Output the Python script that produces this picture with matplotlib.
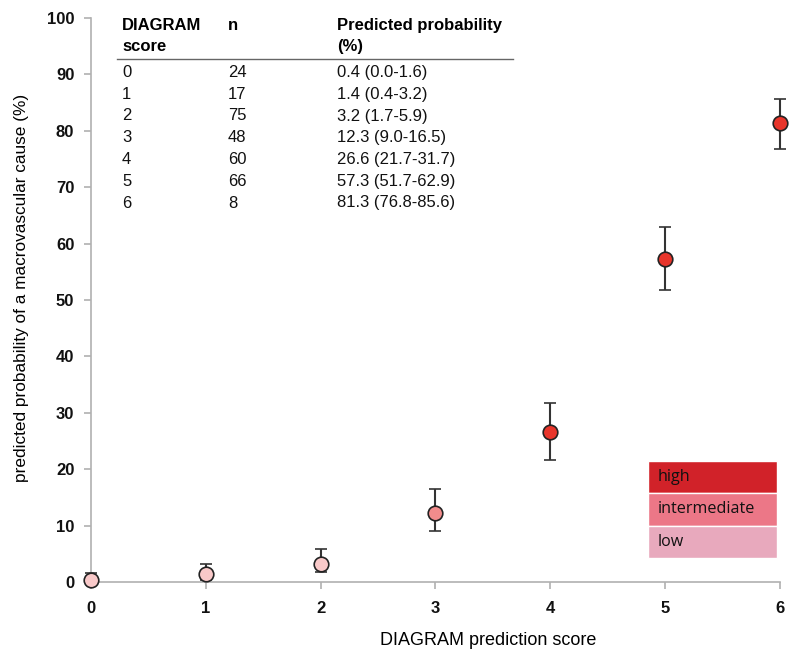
import matplotlib
matplotlib.use("Agg")
import matplotlib.pyplot as plt
from matplotlib.patches import Rectangle

plt.rcParams['font.family'] = ['Liberation Sans', 'DejaVu Sans']

# Data: DIAGRAM score, sample size, predicted probability with 95% CI
scores = [0, 1, 2, 3, 4, 5, 6]
n_patients = [24, 17, 75, 48, 60, 66, 8]
prob = [0.4, 1.4, 3.2, 12.3, 26.6, 57.3, 81.3]
ci_low = [0.0, 0.4, 1.7, 9.0, 21.7, 51.7, 76.8]
ci_high = [1.6, 3.2, 5.9, 16.5, 31.7, 62.9, 85.6]
risk_group = ['low', 'low', 'low', 'intermediate', 'high', 'high', 'high']

marker_colors = {'low': '#f9c9c9', 'intermediate': '#f28c8c', 'high': '#e8352b'}
legend_colors = [('high', '#d12229'), ('intermediate', '#ec7787'), ('low', '#e8a9bd')]

W, H = 812, 653
fig = plt.figure(figsize=(W / 100, H / 100), dpi=100)
x0, x1, y0, y1 = 91, 780, 582, 18
ax = fig.add_axes([x0 / W, 1 - y0 / H, (x1 - x0) / W, (y0 - y1) / H])

for s, p, lo, hi, g in zip(scores, prob, ci_low, ci_high, risk_group):
    ax.errorbar(s, p, yerr=[[p - lo], [hi - p]], fmt='o', ms=10.5,
                mfc=marker_colors[g], mec='#222222', mew=1.2,
                ecolor='#333333', elinewidth=1.5, capsize=4, capthick=1.5,
                clip_on=False, zorder=3)

ax.set_xlim(0, 6)
ax.set_ylim(0, 100)
ax.set_xticks(scores)
ax.set_yticks(range(0, 101, 10))
for side in ('top', 'right'):
    ax.spines[side].set_visible(False)
for side in ('left', 'bottom'):
    ax.spines[side].set_color('#b0b0b0')
    ax.spines[side].set_linewidth(1.2)
ax.tick_params(axis='both', colors='#b0b0b0', length=5, width=1.2,
               labelcolor='#111111', labelsize=12)
ax.tick_params(axis='x', pad=9)
ax.tick_params(axis='y', pad=7)
for lab in ax.get_xticklabels() + ax.get_yticklabels():
    lab.set_fontweight('bold')

ax.set_xlabel('DIAGRAM prediction score', fontsize=13)
ax.xaxis.set_label_coords((488 - x0) / (x1 - x0), -(632 - y0) / (y0 - y1))
ax.set_ylabel('predicted probability of a macrovascular cause (%)', fontsize=12.4)
ax.yaxis.set_label_coords(-(x0 - 29) / (x1 - x0), (y0 - 288) / (y0 - y1))

# Summary table in the upper-left corner
def fx(px):
    return px / W

def fy(py):
    return 1 - py / H

col_x = [122, 228, 337]
hdr_kw = dict(fontsize=12, fontweight='bold', va='baseline', ha='left')
headers = [('DIAGRAM', 'score'), ('n', ''), ('Predicted probability', '(%)')]
for cx, (l1, l2) in zip(col_x, headers):
    fig.text(fx(cx), fy(30), l1, **hdr_kw)
    if l2:
        fig.text(fx(cx), fy(51), l2, **hdr_kw)
fig.add_artist(plt.Line2D([fx(117), fx(513)], [fy(59), fy(59)], color='#666666', lw=1.0))

row_kw = dict(fontsize=12, va='baseline', ha='left', color='#111111')
for i, (s, n, p, lo, hi) in enumerate(zip(scores, n_patients, prob, ci_low, ci_high)):
    y = fy(77 + i * 21.75)
    fig.text(fx(col_x[0]), y, str(s), **row_kw)
    fig.text(fx(col_x[1]), y, str(n), **row_kw)
    fig.text(fx(col_x[2]), y, f'{p:.1f} ({lo:.1f}-{hi:.1f})', **row_kw)

# Risk-group colour key
box_x, box_w, box_top, row_h = 648, 129, 461, 32.3
for i, (label, col) in enumerate(legend_colors):
    top = box_top + i * row_h
    fig.add_artist(Rectangle((fx(box_x), fy(top + row_h)), box_w / W, row_h / H,
                             facecolor=col, edgecolor='white', lw=1.0))
    fig.text(fx(box_x + 10), fy(top + row_h / 2), label, fontsize=11.6,
             family=['Open Sans', 'DejaVu Sans'], va='center', color='#111111')

fig.savefig('out.png', dpi=100)
